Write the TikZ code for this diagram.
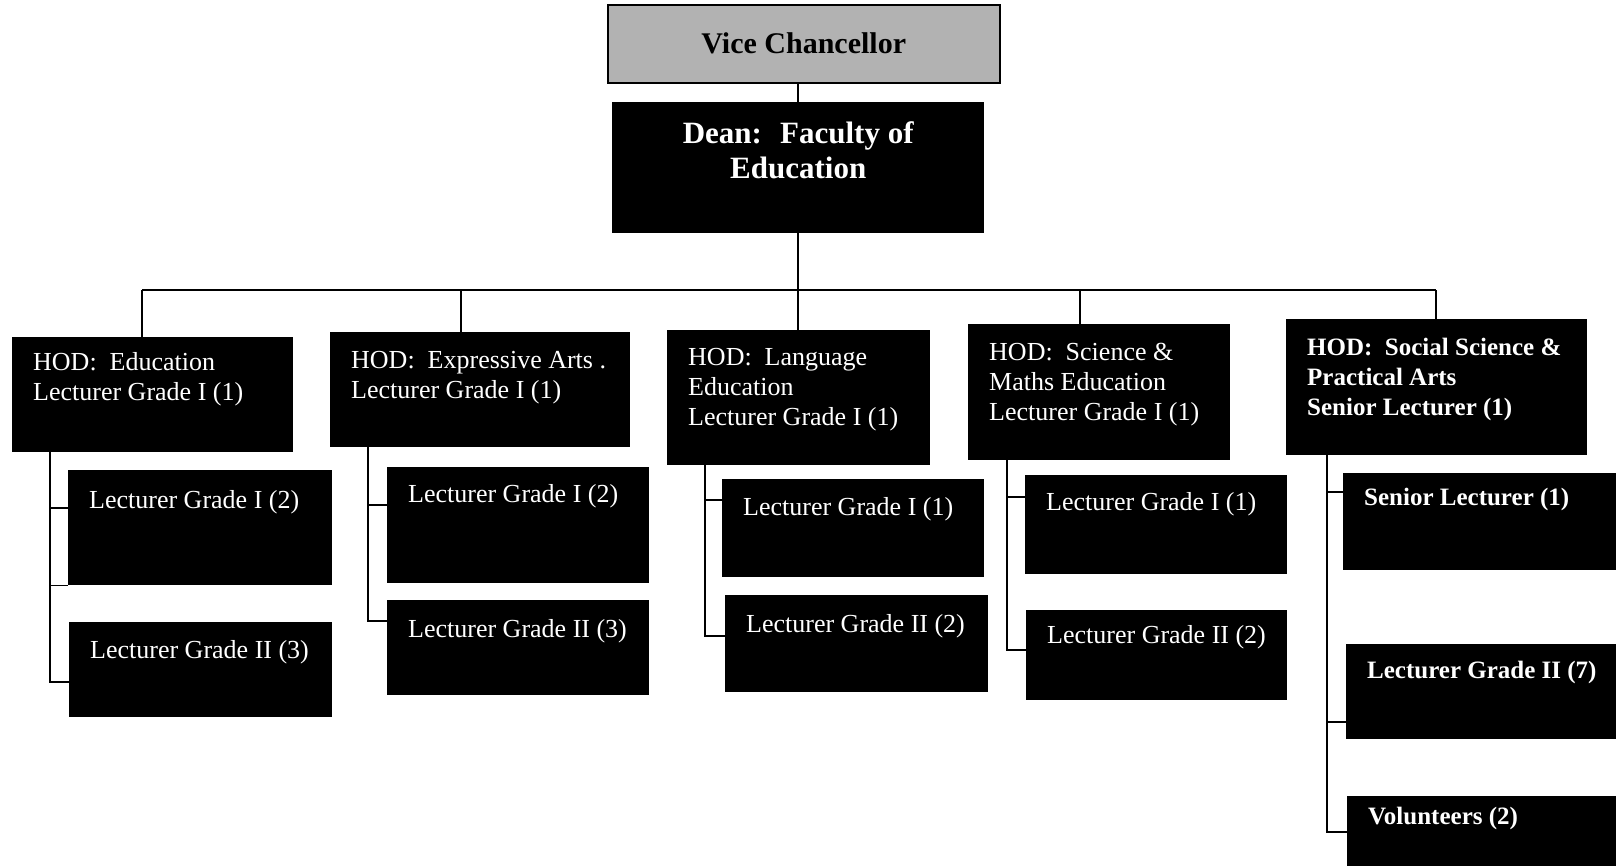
\documentclass[tikz,border=0pt]{standalone}
\usepackage{fontspec}
\setmainfont{Liberation Serif}

% text block of a box: width, height, first baseline, text
\newcommand{\cell}[4]{\parbox[t][#2][t]{#1}{\raggedright\leftskip=21pt\rule{0pt}{#3}#4}}
% same, centred
\newcommand{\ccell}[4]{\parbox[t][#2][t]{#1}{\centering\rule{0pt}{#3}#4}}

\begin{document}
\begin{tikzpicture}[x=1pt, y=-1pt,
  every node/.style={inner sep=0pt, anchor=north west},
  vcbox/.style={fill=black!30, draw=black, line width=1.5pt, text=black,
    font=\bfseries\fontsize{30}{32}\selectfont},
  deanbox/.style={fill=black, text=white,
    font=\bfseries\fontsize{31}{35}\selectfont},
  headbox/.style={fill=black, text=white, font=\fontsize{26}{30}\selectfont},
  postbox/.style={fill=black, text=white, font=\fontsize{26}{30}\selectfont},
  boldtext/.style={font=\bfseries\fontsize{25}{30}\selectfont},
  link/.style={line width=1.6pt, black}]

  % page frame
  \clip (0,0) rectangle (1616,865);

  % 1. top of the chart
  \node[vcbox, minimum width=392pt, minimum height=78pt] (vc) at (607,4) {Vice Chancellor};
  \node[deanbox] (dean) at (612,102) {\ccell{372pt}{131pt}{41pt}{Dean:~ Faculty of\\Education}};

  % 2. heads of department
  \node[headbox] (hedu) at (12,337) {\cell{281pt}{115pt}{33pt}{HOD:~ Education\\Lecturer Grade I (1)}};
  \node[headbox] (hexp) at (330,332) {\cell{300pt}{115pt}{36pt}{HOD:~ Expressive Arts .\\Lecturer Grade I (1)}};
  \node[headbox] (hlan) at (667,330) {\cell{263pt}{135pt}{35pt}{HOD:~ Language\\Education\\Lecturer Grade I (1)}};
  \node[headbox] (hsci) at (968,324) {\cell{262pt}{136pt}{36pt}{HOD:~ Science \&\\Maths Education\\Lecturer Grade I (1)}};
  \node[headbox, boldtext] (hsoc) at (1286,319)
    {\cell{301pt}{136pt}{36pt}{HOD:~ Social Science \&\\Practical Arts\\Senior Lecturer (1)}};

  % 3. staff under each head
  \node[postbox] (edu1) at (68,470) {\cell{264pt}{115pt}{38pt}{Lecturer Grade I (2)}};
  \node[postbox] (edu2) at (69,622) {\cell{263pt}{95pt}{36pt}{Lecturer Grade II (3)}};
  \node[postbox] (exp1) at (387,467) {\cell{262pt}{116pt}{35pt}{Lecturer Grade I (2)}};
  \node[postbox] (exp2) at (387,600) {\cell{262pt}{95pt}{37pt}{Lecturer Grade II (3)}};
  \node[postbox] (lan1) at (722,479) {\cell{262pt}{98pt}{36pt}{Lecturer Grade I (1)}};
  \node[postbox] (lan2) at (725,595) {\cell{263pt}{97pt}{37pt}{Lecturer Grade II (2)}};
  \node[postbox] (sci1) at (1025,475) {\cell{262pt}{99pt}{35pt}{Lecturer Grade I (1)}};
  \node[postbox] (sci2) at (1026,610) {\cell{261pt}{90pt}{33pt}{Lecturer Grade II (2)}};
  \node[postbox, boldtext] (soc1) at (1343,473) {\cell{300pt}{97pt}{32pt}{Senior Lecturer (1)}};
  \node[postbox, boldtext] (soc2) at (1346,644) {\cell{300pt}{95pt}{34pt}{Lecturer Grade II (7)}};
  \node[postbox, boldtext] (soc3) at (1347,796) {\cell{300pt}{90pt}{28pt}{Volunteers (2)}};

  % 4. vice chancellor, dean and the bus line
  \coordinate (busL) at (142,290);
  \coordinate (busR) at (1436,290);
  \path (hexp.north west) ++(131,0) coordinate (dexp);
  \path (hsci.north west) ++(112,0) coordinate (dsci);

  \draw[link] (vc.south -| dean.north) -- (dean.north);
  \draw[link] (dean.south) -- (dean.south |- hlan.north);
  \draw[link] (busL) -- (busR);
  \draw[link] (busL) -- (busL |- hedu.north);
  \draw[link] (dexp |- busL) -- (dexp);
  \draw[link] (dsci |- busL) -- (dsci);
  \draw[link] (busR) -- (busR |- hsoc.north);

  % 5. from each head down to the staff
  \draw[link] (hedu.south west) ++(38,0) |- ([yshift=-38pt]edu1.north west);
  \draw[link] (hedu.south west) ++(38,0) |- (edu1.south west);
  \draw[link] (hedu.south west) ++(38,0) |- ([yshift=-60pt]edu2.north west);

  \draw[link] (hexp.south west) ++(38,0) |- ([yshift=-38pt]exp1.north west);
  \draw[link] (hexp.south west) ++(38,0) |- ([yshift=-21pt]exp2.north west);

  \draw[link] (hlan.south west) ++(38,0) |- ([yshift=-21pt]lan1.north west);
  \draw[link] (hlan.south west) ++(38,0) |- ([yshift=-41pt]lan2.north west);

  \draw[link] (hsci.south west) ++(39,0) |- ([yshift=-22pt]sci1.north west);
  \draw[link] (hsci.south west) ++(39,0) |- ([yshift=-40pt]sci2.north west);

  \draw[link] (hsoc.south west) ++(41,0) |- ([yshift=-19pt]soc1.north west);
  \draw[link] (hsoc.south west) ++(41,0) |- ([yshift=-78pt]soc2.north west);
  \draw[link] (hsoc.south west) ++(41,0) |- ([yshift=-36pt]soc3.north west);

\end{tikzpicture}
\end{document}
